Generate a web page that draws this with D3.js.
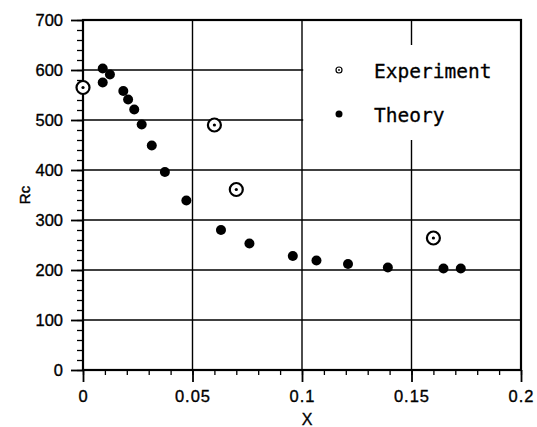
<!DOCTYPE html>
<html>
<head>
<meta charset="utf-8">
<script src="https://cdn.jsdelivr.net/npm/d3@7"></script>
<style>
  html, body { margin: 0; padding: 0; background: #fff; }
  svg { display: block; }
  .tick text { font-family: "Liberation Sans", Arial, sans-serif; font-size: 16.5px; fill: #000; stroke: #000; stroke-width: 0.35px; }
</style>
</head>
<body>
<svg id="chart" width="537" height="427"></svg>
<script>
"use strict";

// values
var theoryX = [0.009, 0.009, 0.0123, 0.0184, 0.0206, 0.0234, 0.0268, 0.0314, 0.0374, 0.0472,
               0.063, 0.076, 0.0958, 0.1066, 0.121, 0.1392, 0.1646, 0.1725];
var theoryRc = [603, 575, 591, 558, 541, 521, 491, 449, 396, 339,
                280, 253, 228, 219, 212, 205, 203, 203];
var experimentX = [0, 0.06, 0.07, 0.16];
var experimentRc = [565, 490, 361, 264];

var xTicks = [0, 0.05, 0.1, 0.15, 0.2];
var xTickLabels = ["0", "0.05", "0.1", "0.15", "0.2"];
var yTicks = [0, 100, 200, 300, 400, 500, 600, 700];
var seriesNames = ["Experiment", "Theory"];

var svg = d3.select("#chart");
var x = d3.scaleLinear().domain([0, 0.2]).range([83, 521]);
var y = d3.scaleLinear().domain([0, 700]).range([370, 20]);

// grid
var grid = svg.append("g").attr("stroke", "#000").attr("stroke-width", 1.4);
grid.selectAll("line.gx")
  .data(xTicks.slice(1, -1))
  .enter().append("line")
  .attr("x1", function (d) { return x(d); })
  .attr("x2", function (d) { return x(d); })
  .attr("y1", y(0)).attr("y2", y(700));
grid.selectAll("line.gy")
  .data(yTicks.slice(1, -1))
  .enter().append("line")
  .attr("x1", x(0)).attr("x2", x(0.2))
  .attr("y1", function (d) { return y(d); })
  .attr("y2", function (d) { return y(d); });

// legend box hides the grid behind it
svg.append("rect")
  .attr("x", x(0.1) + 1.2).attr("y", 45)
  .attr("width", x(0.2) - x(0.1) - 2).attr("height", 95)
  .attr("fill", "#fff");

// minor ticks
svg.append("g")
  .attr("transform", "translate(" + x(0) + ",0)")
  .call(d3.axisLeft(y).tickValues(d3.range(0, 701, 20)).tickSize(6).tickFormat(""))
  .call(function (g) { g.select(".domain").remove(); g.selectAll("line").attr("stroke-width", 1.3); });
svg.append("g")
  .attr("transform", "translate(0," + y(0) + ")")
  .call(d3.axisBottom(x).tickValues(d3.range(0, 21).map(function (i) { return i / 100; })).tickSize(5).tickFormat(""))
  .call(function (g) { g.select(".domain").remove(); g.selectAll("line").attr("stroke-width", 1.3); });

// major ticks + labels
svg.append("g")
  .attr("transform", "translate(" + x(0) + ",0)")
  .call(d3.axisLeft(y).tickValues(yTicks).tickSize(12).tickPadding(8))
  .call(function (g) {
    g.select(".domain").remove();
    g.selectAll("line").attr("stroke-width", 1.8);
  });
svg.append("g")
  .attr("transform", "translate(0," + y(0) + ")")
  .call(d3.axisBottom(x).tickValues(xTicks).tickSize(12).tickPadding(8)
    .tickFormat(function (d, i) { return xTickLabels[i]; }))
  .call(function (g) {
    g.select(".domain").remove();
    g.selectAll("line").attr("stroke-width", 1.8);
    g.selectAll("text").attr("letter-spacing", 1);
  });

// frame
svg.append("rect")
  .attr("x", x(0)).attr("y", y(700))
  .attr("width", x(0.2) - x(0)).attr("height", y(0) - y(700))
  .attr("fill", "none").attr("stroke", "#000").attr("stroke-width", 2.2);

// axis titles
svg.append("text")
  .attr("x", (x(0) + x(0.2)) / 2 + 5).attr("y", 425)
  .attr("text-anchor", "middle")
  .attr("font-family", "Liberation Sans, Arial, sans-serif").attr("font-size", 16)
  .attr("stroke", "#000").attr("stroke-width", 0.35)
  .text("X");
svg.append("text")
  .attr("transform", "translate(30,195) rotate(-90)")
  .attr("text-anchor", "middle")
  .attr("font-family", "Liberation Sans, Arial, sans-serif").attr("font-size", 15)
  .attr("stroke", "#000").attr("stroke-width", 0.4)
  .text("Rc");

// theory points
svg.append("g").selectAll("circle")
  .data(theoryX)
  .enter().append("circle")
  .attr("cx", function (d) { return x(d); })
  .attr("cy", function (d, i) { return y(theoryRc[i]); })
  .attr("r", 5)
  .attr("fill", "#000");

// experiment points
var exp = svg.append("g").selectAll("g")
  .data(experimentX)
  .enter().append("g")
  .attr("transform", function (d, i) { return "translate(" + x(d) + "," + y(experimentRc[i]) + ")"; });
exp.append("circle").attr("r", 6.5).attr("fill", "#fff").attr("stroke", "#000").attr("stroke-width", 2.2);
exp.append("circle").attr("r", 1.6).attr("fill", "#000");

// legend
var legend = svg.append("g");
var legendY = [70, 114];
legend.append("circle").attr("cx", 339).attr("cy", legendY[0]).attr("r", 3).attr("fill", "#fff").attr("stroke", "#000").attr("stroke-width", 1.2);
legend.append("circle").attr("cx", 339).attr("cy", legendY[0]).attr("r", 0.9).attr("fill", "#000");
legend.append("circle").attr("cx", 339).attr("cy", legendY[1]).attr("r", 3.5).attr("fill", "#000");
legend.selectAll("text")
  .data(seriesNames)
  .enter().append("text")
  .attr("x", 374)
  .attr("y", function (d, i) { return legendY[i] + 8; })
  .attr("font-family", "DejaVu Sans Mono, monospace")
  .attr("font-size", 19.5)
  .attr("stroke", "#000").attr("stroke-width", 0.3)
  .text(function (d) { return d; });
</script>
</body>
</html>
